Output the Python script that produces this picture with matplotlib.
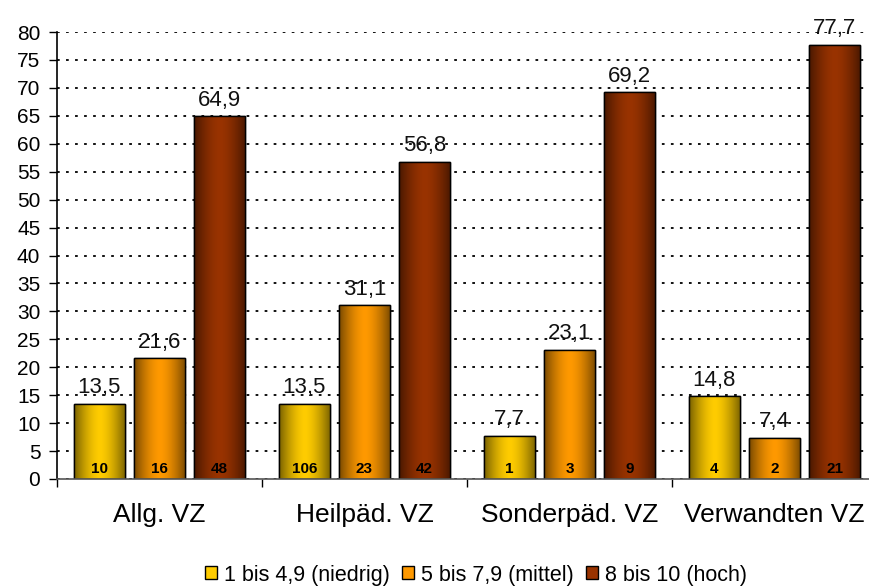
import matplotlib
matplotlib.use("Agg")
import matplotlib.pyplot as plt
import numpy as np
from matplotlib.colors import LinearSegmentedColormap
from matplotlib.patches import Patch

categories = ["Allg. VZ", "Heilpäd. VZ", "Sonderpäd. VZ", "Verwandten VZ"]
series_names = ["1 bis 4,9 (niedrig)", "5 bis 7,9 (mittel)", "8 bis 10 (hoch)"]
low = [13.5, 13.5, 7.7, 14.8]
mid = [21.6, 31.1, 23.1, 7.4]
high = [64.9, 56.8, 69.2, 77.7]
n_low = [10, 106, 1, 4]
n_mid = [16, 23, 3, 2]
n_high = [48, 42, 9, 21]

values = [low, mid, high]
counts = [n_low, n_mid, n_high]
centers_c = ["#FFCC00", "#FF9900", "#993300"]
edges_c = ["#7A6200", "#7A4A00", "#4A1800"]

plt.rcParams['font.family'] = ['Liberation Sans', 'DejaVu Sans']

fig = plt.figure(figsize=(8.69, 5.88), dpi=100)
W, H = 869, 588
left, right, top, bottom = 57, 877, 32, 479
ax = fig.add_axes([left / W, 1 - bottom / H, (right - left) / W, (bottom - top) / H])

x = np.arange(len(categories))
width = 0.25
offsets = [-0.293, 0, 0.293]

ax.set_yticks(np.arange(0, 81, 5))
ax.yaxis.grid(True, linestyle=(0, (1.5, 3.5)), color="black", linewidth=1.3)
ax.set_axisbelow(True)

grad = np.abs(np.linspace(-1, 1, 64)) ** 1.6
grad = grad.reshape(1, -1)
for i in range(3):
    cmap = LinearSegmentedColormap.from_list("g%d" % i, [centers_c[i], edges_c[i]])
    bars = ax.bar(x + offsets[i], values[i], width, color=centers_c[i],
                  edgecolor="black", linewidth=1.0, zorder=2)
    for b, v, c in zip(bars, values[i], counts[i]):
        bx = b.get_x()
        im = ax.imshow(grad, cmap=cmap, aspect="auto", extent=[bx, bx + b.get_width(), 0, v],
                       interpolation="bicubic", zorder=2.1)
        im.set_clip_path(b)
        ax.add_patch(plt.Rectangle((bx, 0), b.get_width(), v, fill=False,
                                   edgecolor="black", linewidth=1.0, zorder=2.2))
        ax.text(bx + b.get_width() / 2, v + 1.0, ("%.1f" % v).replace(".", ","),
                ha="center", va="bottom", fontsize=16, color="#111111", zorder=3)
        ax.text(bx + b.get_width() / 2, 0.5, str(c), ha="center", va="bottom",
                fontsize=11, fontweight="bold", color="black", zorder=3)

ax.set_xlim(-0.5, 3.5)
ax.set_ylim(0, 80)

ax.set_xticks(x)
ax.set_xticklabels(categories, fontsize=19)
ax.tick_params(axis="x", length=0, pad=17)
ax.set_xticks(np.arange(-0.5, 3.6, 1), minor=True)
ax.tick_params(axis="x", which="minor", length=6, width=1, direction="out")
ax.tick_params(axis="y", length=6, width=1, direction="out", labelsize=15, pad=6)

for s in ["top", "right"]:
    ax.spines[s].set_visible(False)
ax.spines["left"].set_linewidth(1.2)
ax.spines["bottom"].set_linewidth(1.2)
ax.spines["bottom"].set_color("#555555")

handles = [Patch(facecolor=centers_c[i], edgecolor="black", linewidth=1) for i in range(3)]
fig.legend(handles, series_names, loc="center", bbox_to_anchor=(476 / W, 1 - 575 / H),
           ncol=3, frameon=False, fontsize=15.5, handlelength=0.55, handleheight=0.55,
           handletextpad=0.3, columnspacing=0.6)

fig.savefig("out.png", dpi=100)
